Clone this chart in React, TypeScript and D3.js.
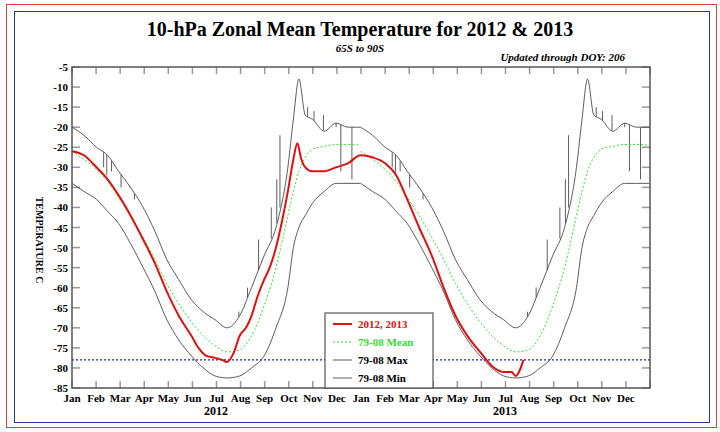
import React from "react";
import * as d3 from "d3";

const climDays = [0, 15, 31, 45, 59, 74, 90, 105, 120, 135, 151, 166, 181, 196, 212, 227, 243, 258, 273, 280, 287, 295, 304, 319, 334, 349, 365];
const meanVals = [-26, -28, -30.5, -33.5, -37.5, -42, -47.5, -53, -59, -64, -68.5, -72, -74.5, -76, -75.5, -72, -64.5, -55, -42, -36, -31, -27.5, -25.5, -24.8, -24.3, -24.3, -24.5];
const maxVals = [-20, -22, -25, -27, -31, -35, -40, -46, -53, -58, -63, -66, -68, -70, -67, -60, -52, -45, -30, -18, -8, -17, -18, -21, -19, -20, -20];
const minVals = [-34, -36, -38, -41, -44, -49, -55, -61, -68, -73, -77, -80, -82, -82.5, -82, -80, -77, -70, -60, -50, -45, -42, -39, -36, -34, -34, -34];
const obsDays = [0, 15, 31, 45, 59, 74, 90, 105, 120, 135, 151, 160, 170, 181, 190, 196, 205, 212, 220, 227, 235, 243, 250, 258, 265, 273, 280, 285, 290, 295, 304, 319, 334, 349, 365, 380, 396, 410, 424, 439, 455, 470, 485, 500, 516, 531, 546, 556, 561, 571];
const obsVals = [-26, -27, -30, -33, -37, -42, -48, -54, -61, -67, -72, -75, -77, -77.5, -78, -78.5, -76, -72, -70, -67, -62, -58, -55, -50, -44, -36, -28, -24, -28, -30, -31, -31, -30, -29, -27, -27.5, -29, -32, -38, -45, -52, -60, -67, -72, -76, -79.5, -81, -81, -82, -78];
const spikeDays = [40, 44, 50, 62, 73, 79, 211, 222, 236, 252, 259, 263, 298, 306, 318, 334, 340, 354];
const spikeTops = [-30, -32, -31, -35, -35, -38, -66, -60, -48, -40, -33, -22, -15, -16, -17, -20, -31, -33];
const months = ["Jan", "Feb", "Mar", "Apr", "May", "Jun", "Jul", "Aug", "Sep", "Oct", "Nov", "Dec"];
const years = ["2012", "2013"];
const yTicks = d3.range(-5, -86, -5);

const L = 72, R = 650, T = 67, B = 388;
const ser = "'Liberation Serif', 'Times New Roman', serif";

export default function App() {
  const x = d3.scaleLinear().domain([0, 731]).range([L, R]);
  const y = d3.scaleLinear().domain([-5, -85]).range([T, B]);
  const line = d3.line<[number, number]>().x(d => x(d[0])).y(d => y(d[1])).curve(d3.curveMonotoneX);
  const both = (vals: number[]) => [0, 365].map(off => line(climDays.map((d, i) => [d + off, vals[i]]))!);
  const interp = (d: number) => {
    const dd = d % 365;
    const i = d3.bisectRight(climDays, dd) - 1;
    const t = (dd - climDays[i]) / (climDays[i + 1] - climDays[i]);
    return maxVals[i] + t * (maxVals[i + 1] - maxVals[i]);
  };
  const monthStarts = d3.range(0, 25).map(i => x(i * 731 / 24));
  const ts = { fontFamily: ser, fontWeight: "bold" as const };
  return (
    <svg width={720} height={432} style={{ position: "absolute", left: 0, top: 0, fontFamily: ser }}>
      <rect width={720} height={432} fill="white" />
      <rect x={6.5} y={4.5} width={710} height={423} fill="none" stroke="#e04040" />
      <rect x={14.5} y={11.5} width={695} height={411} fill="none" stroke="#3030a0" />
      <text x={360} y={36} textAnchor="middle" fontSize={20} style={ts}>10-hPa Zonal Mean Temperature for 2012 &amp; 2013</text>
      <text x={360} y={52} textAnchor="middle" fontSize={11} fontStyle="italic" style={ts}>65S to 90S</text>
      <text x={625} y={61} textAnchor="end" fontSize={11} fontStyle="italic" style={ts}>Updated through DOY: 206</text>
      <text transform="translate(36,240) rotate(90)" textAnchor="middle" fontSize={10} style={ts}>TEMPERATURE C</text>
      {yTicks.map(v => (
        <g key={v}>
          <line x1={L} x2={L + 8} y1={y(v)} y2={y(v)} stroke="#999" strokeWidth={1.5} />
          <line x1={R - 8} x2={R} y1={y(v)} y2={y(v)} stroke="#999" strokeWidth={1.5} />
          <text x={L - 4} y={y(v) + 4} textAnchor="end" fontSize={11} style={ts}>{v}</text>
        </g>
      ))}
      {monthStarts.map((mx, i) => (
        <g key={i}>
          <line x1={mx} x2={mx} y1={T} y2={T + 7} stroke="#999" strokeWidth={1.5} />
          <line x1={mx} x2={mx} y1={B} y2={B - 7} stroke="#999" strokeWidth={1.5} />
        </g>
      ))}
      {d3.range(24).map(i => (
        <text key={i} x={monthStarts[i]} y={402} textAnchor="middle" fontSize={11} style={ts}>{months[i % 12]}</text>
      ))}
      {years.map((yr, i) => (
        <text key={yr} x={x(i * 365.5 + 182)} y={415} textAnchor="middle" fontSize={12} style={ts}>{yr}</text>
      ))}
      {both(maxVals).map((p, i) => <path key={"mx" + i} d={p} fill="none" stroke="#333" strokeWidth={0.8} />)}
      {both(minVals).map((p, i) => <path key={"mn" + i} d={p} fill="none" stroke="#333" strokeWidth={0.8} />)}
      {[0, 365].flatMap(off => spikeDays.map((d, i) => (
        <line key={off + "s" + i} x1={x(d + off)} x2={x(d + off)} y1={y(interp(d))} y2={y(spikeTops[i])} stroke="#333" strokeWidth={0.8} />
      )))}
      {both(meanVals).map((p, i) => <path key={"me" + i} d={p} fill="none" stroke="#33dd33" strokeWidth={1} strokeDasharray="2,2" />)}
      <line x1={L} x2={R} y1={y(-78)} y2={y(-78)} stroke="#2020c0" strokeWidth={1.2} strokeDasharray="2,2" />
      <path d={line(obsDays.map((d, i) => [d, obsVals[i]]))!} fill="none" stroke="#e01010" strokeWidth={2} />
      <rect x={L} y={T} width={R - L} height={B - T} fill="none" stroke="#555" strokeWidth={1.5} />
      <g>
        <rect x={325} y={313} width={108} height={75} fill="white" stroke="#555" strokeWidth={1.2} />
        <line x1={333} x2={352} y1={324} y2={324} stroke="#e01010" strokeWidth={2} />
        <text x={358} y={328} fontSize={11} fill="#e01010" style={ts}>2012, 2013</text>
        <line x1={333} x2={352} y1={342} y2={342} stroke="#33dd33" strokeDasharray="2,2" />
        <text x={358} y={346} fontSize={11} fill="#33dd33" style={ts}>79-08 Mean</text>
        <line x1={333} x2={352} y1={360} y2={360} stroke="#333" strokeWidth={0.8} />
        <text x={358} y={364} fontSize={11} style={ts}>79-08 Max</text>
        <line x1={333} x2={352} y1={378} y2={378} stroke="#333" strokeWidth={0.8} />
        <text x={358} y={382} fontSize={11} style={ts}>79-08 Min</text>
      </g>
    </svg>
  );
}
